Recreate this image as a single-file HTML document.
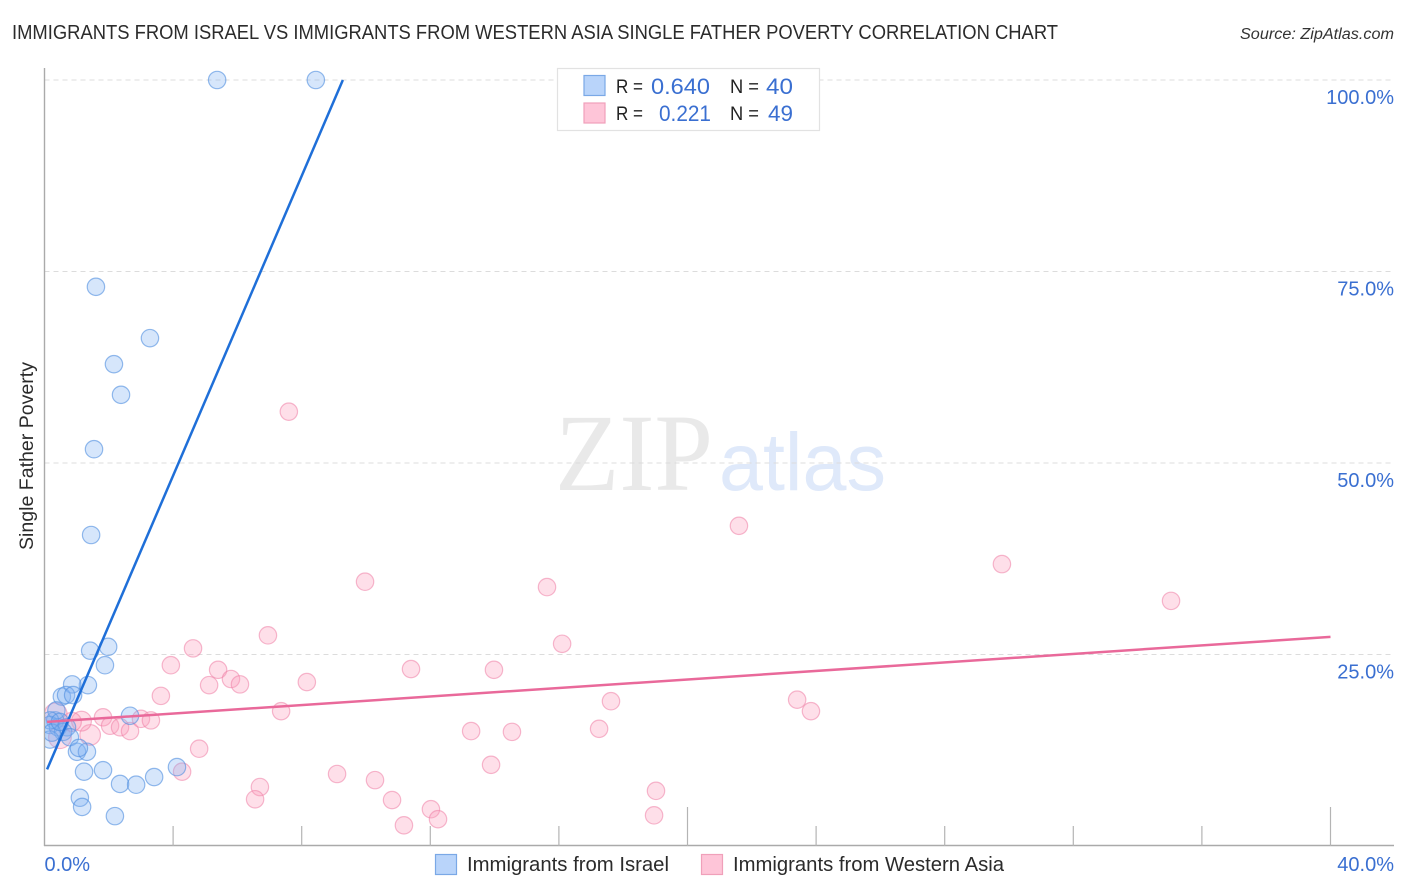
<!DOCTYPE html>
<html lang="en">
<head>
<meta charset="utf-8">
<title>Immigrants from Israel vs Immigrants from Western Asia Single Father Poverty Correlation Chart</title>
<style>
html,body{margin:0;padding:0;background:#fff;}
svg{display:block;font-family:"Liberation Sans",sans-serif;}
</style>
</head>
<body>
<svg id="chart" xmlns="http://www.w3.org/2000/svg" width="1406" height="892" viewBox="0 0 1406 892">
  <defs>
    <clipPath id="plot-clip"><rect x="45" y="60" width="1349" height="786"/></clipPath>
  </defs>
  <rect width="1406" height="892" fill="#fff"/>
  <text x="12" y="39" font-size="20" fill="#2b2b2b" textLength="1046" lengthAdjust="spacingAndGlyphs">IMMIGRANTS FROM ISRAEL VS IMMIGRANTS FROM WESTERN ASIA SINGLE FATHER POVERTY CORRELATION CHART</text>
  <text x="1394" y="39" font-size="15.5" font-style="italic" fill="#333" text-anchor="end" textLength="154" lengthAdjust="spacingAndGlyphs">Source: ZipAtlas.com</text>
  <g>
    <text x="555" y="490" font-family="'Liberation Serif',serif" font-size="110" fill="#e9e9e9" textLength="158" lengthAdjust="spacingAndGlyphs">ZIP</text>
    <text x="719" y="490" font-size="82" fill="#dfe9fa" textLength="167" lengthAdjust="spacingAndGlyphs">atlas</text>
  </g>
  <g id="grid"></g>
  <g id="axes"></g>
  <g id="points" clip-path="url(#plot-clip)"></g>
  <g id="trends"></g>
  <g id="labels"></g>
  <text transform="translate(33,456) rotate(-90)" font-size="19" fill="#2b2b2b" text-anchor="middle" textLength="188" lengthAdjust="spacingAndGlyphs">Single Father Poverty</text>

  <g>
    <rect x="557.5" y="68.5" width="262" height="62" fill="#fff" stroke="#e2e2e2" stroke-width="1.2"/>
    <rect x="584" y="75.5" width="21" height="20" fill="#b9d4fa" stroke="#7aa8e6" stroke-width="1.2"/>
    <rect x="584" y="103" width="21" height="20" fill="#fec5d8" stroke="#f0a0ba" stroke-width="1.2"/>
    <text x="616" y="93" font-size="19" fill="#222" textLength="27" lengthAdjust="spacingAndGlyphs">R =</text>
    <text x="651" y="94" font-size="22" fill="#3a6fd1" textLength="59" lengthAdjust="spacingAndGlyphs">0.640</text>
    <text x="730" y="93" font-size="19" fill="#222" textLength="29" lengthAdjust="spacingAndGlyphs">N =</text>
    <text x="766" y="94" font-size="22" fill="#3a6fd1" textLength="27" lengthAdjust="spacingAndGlyphs">40</text>
    <text x="616" y="120" font-size="19" fill="#222" textLength="27" lengthAdjust="spacingAndGlyphs">R =</text>
    <text x="659" y="121" font-size="22" fill="#3a6fd1" textLength="52" lengthAdjust="spacingAndGlyphs">0.221</text>
    <text x="730" y="120" font-size="19" fill="#222" textLength="29" lengthAdjust="spacingAndGlyphs">N =</text>
    <text x="768" y="121" font-size="22" fill="#3a6fd1" textLength="25" lengthAdjust="spacingAndGlyphs">49</text>
  </g>

  <g>
    <rect x="435.5" y="854.5" width="21" height="20" fill="#b9d4fa" stroke="#7aa8e6" stroke-width="1.2"/>
    <text x="467" y="871" font-size="20" fill="#2b2b2b" textLength="202" lengthAdjust="spacingAndGlyphs">Immigrants from Israel</text>
    <rect x="701.5" y="854.5" width="21" height="20" fill="#fec5d8" stroke="#f0a0ba" stroke-width="1.2"/>
    <text x="733" y="871" font-size="20" fill="#2b2b2b" textLength="271" lengthAdjust="spacingAndGlyphs">Immigrants from Western Asia</text>
  </g>
</svg>
<script>
// Series values (percent)
const israelX = [5.37,8.44,1.60,3.28,2.16,2.38,1.54,1.45,1.98,1.42,1.88,1.35,0.86,0.54,0.67,0.89,2.66,0.33,0.37,0.17,0.42,0.70,0.58,0.79,0.17,0.17,1.01,1.32,1.07,1.23,1.82,2.35,2.85,3.41,4.12,1.10,1.17,2.19,0.23,0.48];
const israelY = [100,100,73.0,66.3,62.9,58.9,51.8,40.6,26.0,25.5,23.6,21.0,21.1,19.5,19.7,19.7,17.0,16.4,17.7,15.8,15.5,15.5,14.9,14.2,13.9,16.4,12.3,12.3,12.8,9.7,9.9,8.1,8.0,9.0,10.3,6.3,5.1,3.9,14.8,16.2];
const westernAsiaX = [7.60,21.60,29.78,9.97,15.63,35.04,6.95,16.10,4.62,3.93,5.40,11.40,13.98,5.80,6.08,5.12,8.16,3.62,17.62,23.41,23.84,7.36,17.25,13.27,14.54,13.89,4.81,4.28,9.10,10.28,6.70,6.55,10.81,19.02,18.96,12.02,12.24,11.18,1.82,2.04,2.35,2.66,3.00,3.31,1.42,1.15,0.35,0.48,0.85];
const westernAsiaY = [56.7,41.8,36.8,34.5,33.8,32.0,27.5,26.4,25.8,23.6,23.0,23.1,23.0,21.8,21.1,21.0,21.4,19.6,18.9,19.1,17.6,17.6,15.3,15.0,14.9,10.6,12.7,9.7,9.4,8.6,7.7,6.1,6.0,7.2,4.0,4.8,3.5,2.7,16.8,15.7,15.5,15.0,16.6,16.4,14.5,16.3,17.2,14.2,16.2];
const westernAsiaWeights = [1,1,1,1,1,1,1,1,1,1,1,1,1,1,1,1,1,1,1,1,1,1,1,1,1,1,1,1,1,1,1,1,1,1,1,1,1,1,1,1,1,1,1,1,1.4,1.3,1.7,1.7,1.2];
// Trend endpoints (percent)
const israelTrendX = [0.08,9.28];
const israelTrendY = [10.0,100];
const westernAsiaTrendX = [0.08,40];
const westernAsiaTrendY = [16.2,27.3];
// Axis ticks
const yTicks = [100,75,50,25];
const yTickLabels = ["100.0%","75.0%","50.0%","25.0%"];
const xTicks = [4,8,12,16,20,24,28,32,36,40];
const xMajorTicks = [20,40];
const xEndTicks = [0,40];
const xEndLabels = ["0.0%","40.0%"];

const NS = "http://www.w3.org/2000/svg";
const xScale = v => 44.5 + v * 32.15;
const yScale = v => 846 - v * 7.66;
function make(tag, attrs, parent) {
  const el = document.createElementNS(NS, tag);
  for (const k in attrs) el.setAttribute(k, attrs[k]);
  parent.appendChild(el);
  return el;
}
const grid = document.getElementById("grid");
const axes = document.getElementById("axes");
const points = document.getElementById("points");
const trends = document.getElementById("trends");
const labels = document.getElementById("labels");

yTicks.forEach(function (t) {
  const line = make("line", {x1:44.5, x2:1394, y1:yScale(t), y2:yScale(t), stroke:"#dcdcdc", "stroke-width":1, "stroke-dasharray":"5 4"}, grid);
  
  
});

const yAxis = make("line", {x1:44.5, x2:44.5, y1:68, y2:846, stroke:"#aaa", "stroke-width":1.4}, axes);


const xAxis = make("line", {x1:44, x2:1394, y1:845.5, y2:845.5, stroke:"#aaa", "stroke-width":1.4}, axes);


xTicks.forEach(function (t) {
  const len = xMajorTicks.includes(t) ? 39 : 20;
  const tick = make("line", {x1:xScale(t), x2:xScale(t), y1:846 - len, y2:846, stroke:"#b4b4b4", "stroke-width":1.2}, axes);
  
  
});

westernAsiaX.forEach(function (x, i) {
  const c = make("circle", {cx:xScale(x), cy:yScale(westernAsiaY[i]), r:8.7 * Math.sqrt(westernAsiaWeights[i]), fill:"#fb9dbc", "fill-opacity":0.32, stroke:"#ee7fa5", "stroke-opacity":0.55, "stroke-width":1.2}, points);
  
  
});
israelX.forEach(function (x, i) {
  const c = make("circle", {cx:xScale(x), cy:yScale(israelY[i]), r:8.7, fill:"#7fb0f2", "fill-opacity":0.32, stroke:"#4f8de0", "stroke-opacity":0.6, "stroke-width":1.2}, points);
  
  
});

const trendIsrael = make("line", {x1:xScale(israelTrendX[0]), y1:yScale(israelTrendY[0]), x2:xScale(israelTrendX[1]), y2:yScale(israelTrendY[1]), stroke:"#1f6fd8", "stroke-width":2.5}, trends);


const trendAsia = make("line", {x1:xScale(westernAsiaTrendX[0]), y1:yScale(westernAsiaTrendY[0]), x2:xScale(westernAsiaTrendX[1]), y2:yScale(westernAsiaTrendY[1]), stroke:"#e9699a", "stroke-width":2.5}, trends);



yTicks.forEach(function (t, i) {
  const lab = make("text", {x:1394, y:yScale(t) + 24, "font-size":20, fill:"#3a6fd1", "text-anchor":"end"}, labels);
  
  
  lab.textContent = yTickLabels[i];
});
xEndTicks.forEach(function (t, i) {
  const lab = make("text", {x: i === 0 ? xScale(t) : 1394, y:871, "font-size":20, fill:"#3a6fd1", "text-anchor": i === 0 ? "start" : "end"}, labels);
  
  
  lab.textContent = xEndLabels[i];
});
</script>
</body>
</html>
